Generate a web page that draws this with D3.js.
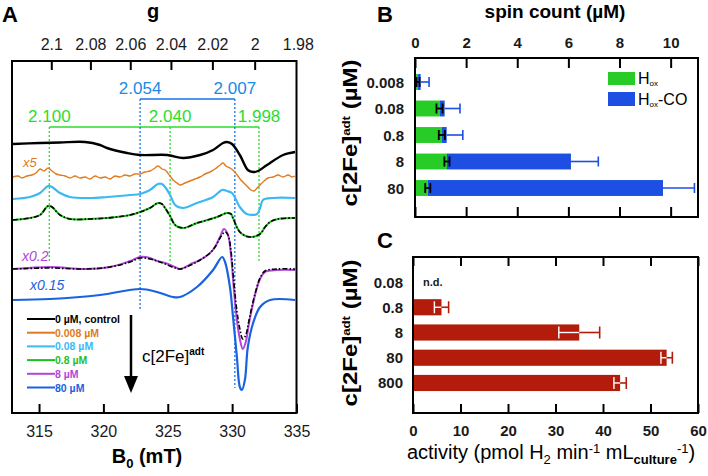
<!DOCTYPE html>
<html>
<head>
<meta charset="utf-8">
<script src="https://cdn.jsdelivr.net/npm/d3@7"></script>
<style>
  body { margin: 0; background: #fff; }
  svg { font-family: "Liberation Sans", Arial, sans-serif; }
</style>
</head>
<body>
<svg id="fig" width="708" height="476"></svg>
<script>
// ---- panel A data: EPR spectra, [field (mT), signal (arb. u.)] ----
var gB = 663.5; // g * B(mT) at the microwave frequency used
var gTicks = [2.1, 2.08, 2.06, 2.04, 2.02, 2, 1.98];
var gTickLabels = ["2.1", "2.08", "2.06", "2.04", "2.02", "2", "1.98"];
var fieldTicks = [315, 320, 325, 330, 335];

var seriesNames = ["0 µM, control", "0.008 µM", "0.08 µM", "0.8 µM", "8 µM", "80 µM"];
var seriesOffsets = [269, 236, 215, 194, 144, 113];

var specControl = [[312.98,0],[315.08,1],[316.63,1.5],[318.57,2],[319.74,-1],[320.28,-4],[321.84,-9],[322.85,-11],[324.95,-11],[326.19,-14],[327.51,-11],[328.52,-6],[329.29,1],[329.6,2],[329.99,0],[330.6,-11],[331.22,-26],[331.63,-28],[332.01,-27],[332.71,-21],[333.96,-11],[334.89,-8]];
var specOrange = [[312.98,0],[313.37,1],[313.68,-1],[314.07,1],[314.45,2],[314.76,4],[315.08,8],[315.39,6],[315.7,9],[316.01,6],[316.32,3],[316.63,2],[317.02,1],[317.41,-1],[317.8,1],[318.18,-1],[318.57,0],[318.96,-2],[319.35,1],[319.74,-1],[320.13,0],[320.51,-2],[320.9,1],[321.29,0],[321.68,2],[322.07,1],[322.46,3],[322.85,3],[323.23,5],[323.62,6],[324.01,9],[324.24,11],[324.55,8],[324.79,7],[325.18,1],[325.41,-3],[325.72,-6],[325.95,-8],[326.34,-6],[326.73,-4],[327.12,-2],[327.51,0],[327.9,3],[328.28,5],[328.67,8],[329.06,12],[329.29,14],[329.52,11],[329.83,9],[330.14,6],[330.45,1],[330.68,-3],[330.99,-7],[331.22,-10],[331.45,-13],[331.7,-14],[331.94,-11],[332.17,-8],[332.48,-4],[332.79,-1],[333.18,0],[333.57,2],[333.96,0],[334.34,2],[334.66,0],[334.89,1]];
var specLightBlue = [[312.98,-1],[314.3,1],[315.08,5],[315.7,12],[316.01,11],[316.63,5],[317.41,1],[318.96,0],[320.28,1],[322.07,3],[322.85,4],[323.62,8],[324.24,14],[324.55,14],[324.79,11],[325.18,3],[325.57,-7],[326.19,-10],[327.27,-5],[328.52,1],[329.22,8],[329.6,7],[329.99,5],[330.6,-9],[331.14,-16],[331.94,-16],[332.17,-10],[332.4,-2],[333.18,0],[334.89,0]];
var specGreen = [[312.98,-1],[314.3,1],[315.08,4],[315.7,13],[316.01,12],[316.63,4],[317.41,0],[318.96,0],[320.28,1],[322.07,4],[322.85,7],[323.62,11],[324.24,16],[324.55,15],[324.79,11],[325.18,3],[325.57,-6],[326.19,-9],[327.27,-4],[328.83,2],[329.6,6],[329.91,5],[330.07,1],[330.6,-13],[331.37,-18],[332.17,-15],[332.56,-8],[332.95,-3],[333.57,0],[334.89,1]];
var specPurple = [[312.98,0],[315.85,2],[318.57,0],[320.51,2],[322.07,8],[322.85,12],[323.62,11],[324.17,8],[324.79,6],[325.57,2],[325.95,0],[326.96,6],[327.51,9],[328.28,16],[328.67,22],[329.06,32],[329.37,40],[329.68,34],[329.91,14],[330.14,-21],[330.37,-51],[330.6,-70],[330.83,-80],[331.06,-73],[331.3,-55],[331.53,-40],[331.86,-22],[332.17,-10],[332.56,-3],[333.49,-1],[334.89,-1]];
var specBlue = [[312.98,0],[315.85,1],[319.74,5],[322.85,11],[324.17,8],[325.41,3],[325.95,3],[327.27,13],[328.52,30],[329.22,43],[329.45,38],[329.83,13],[330.07,-17],[330.37,-57],[330.6,-87],[330.76,-90],[330.99,-80],[331.22,-47],[331.63,-23],[332.17,-7],[332.95,0],[334.89,0]];
// simulations (black dash-dot) for the 0.8 uM and 8 uM spectra
var fit08 = specGreen;
var fit8 = [[312.98,0],[315.85,1],[318.57,0],[320.51,2],[322.07,7],[322.85,11],[323.62,10],[324.17,8],[324.79,5],[325.57,1],[325.95,0],[326.96,5],[327.51,9],[328.28,16],[328.67,22],[329.06,31],[329.45,37],[329.68,34],[329.91,18],[330.14,-14],[330.37,-42],[330.6,-60],[330.83,-70],[331.06,-66],[331.3,-52],[331.53,-38],[331.86,-21],[332.17,-9],[332.56,-2],[333.49,0],[334.89,0]];

var blueMarkG = ["2.054", "2.007"];
var blueMarkB = [322.85, 330.21];
var greenMarkG = ["2.100", "2.040", "1.998"];
var greenMarkB = [315.8, 325.18, 332.09];

// ---- panel B data: spin count (uM) ----
var catsB = ["0.008", "0.08", "0.8", "8", "80"];
var hox = [0.12, 0.96, 1.05, 1.25, 0.5];
var hoxErr = [0.06, 0.12, 0.12, 0.1, 0.1];
var hoxCO = [0.1, 0.2, 0.19, 4.85, 9.2];
var totalErr = [0.33, 0.6, 0.63, 1.07, 1.23];
var spinTicks = [0, 2, 4, 6, 8, 10];

// ---- panel C data: H2 activity ----
var catsC = ["0.08", "0.8", "8", "80", "800"];
var activity = [null, 6.0, 35.0, 53.4, 43.6];
var activityErr = [null, 1.5, 4.3, 1.2, 1.3];
var activityTicks = [0, 10, 20, 30, 40, 50, 60];

var svg = d3.select("#fig");
var FONT = "'Liberation Sans', Arial, sans-serif";

//////////////
// Panel A  //
//////////////
var xA = d3.scaleLinear().domain([312.9, 335]).range([12, 296.5]);
var yA = d3.scaleLinear().domain([0, 352]).range([413, 61]);

var traceColors = ["#000000", "#e07a1c", "#3bb9f3", "#1fbf1f", "#b046d8", "#1a62e0"];
var traceWidths = [2.4, 1.4, 2.2, 2.0, 2.0, 2.2];
var spectra = [specControl, specOrange, specLightBlue, specGreen, specPurple, specBlue];

function specLine(offset) {
  return d3.line()
    .curve(d3.curveCatmullRom.alpha(0.5))
    .x(function(d) { return xA(d[0]); })
    .y(function(d) { return yA(offset + d[1]); });
}

// marker lines
var gM = svg.append("g");
greenMarkB.forEach(function(b) {
  gM.append("line").attr("x1", xA(b)).attr("x2", xA(b)).attr("y1", 127).attr("y2", 262)
    .attr("stroke", "#2ddc2d").attr("stroke-width", 1.3).attr("stroke-dasharray", "2,2");
});
gM.append("line").attr("x1", xA(greenMarkB[0])).attr("x2", xA(greenMarkB[2])).attr("y1", 127).attr("y2", 127)
  .attr("stroke", "#2ddc2d").attr("stroke-width", 1.5);
[310, 388].forEach(function(yEnd, i) {
  gM.append("line").attr("x1", xA(blueMarkB[i])).attr("x2", xA(blueMarkB[i])).attr("y1", 99).attr("y2", yEnd)
    .attr("stroke", "#1a72e6").attr("stroke-width", 1.3).attr("stroke-dasharray", "2,2");
});
gM.append("line").attr("x1", xA(blueMarkB[0])).attr("x2", xA(blueMarkB[1])).attr("y1", 99).attr("y2", 99)
  .attr("stroke", "#1a72e6").attr("stroke-width", 1.5);

gM.selectAll("text.gm").data(greenMarkG).enter().append("text")
  .attr("x", function(d, i) { return xA(greenMarkB[i]); }).attr("y", 122)
  .attr("text-anchor", "middle").attr("font-size", 17).attr("fill", "#2ddc2d").text(function(d) { return d; });
gM.selectAll("text.bm").data(blueMarkG).enter().append("text")
  .attr("x", function(d, i) { return xA(blueMarkB[i]); }).attr("y", 94)
  .attr("text-anchor", "middle").attr("font-size", 17).attr("fill", "#1a8ae6").text(function(d) { return d; });

// spectra
spectra.forEach(function(s, i) {
  svg.append("path").datum(s)
    .attr("fill", "none").attr("stroke", traceColors[i]).attr("stroke-width", traceWidths[i])
    .attr("stroke-linejoin", "round").attr("d", specLine(seriesOffsets[i]));
  if (i === 3) {
    svg.append("path").datum(fit08).attr("fill", "none").attr("stroke", "#000").attr("stroke-width", 1.6)
      .attr("stroke-dasharray", "5,2,1.5,2").attr("d", specLine(seriesOffsets[3]));
  }
  if (i === 4) {
    svg.append("path").datum(fit8).attr("fill", "none").attr("stroke", "#000").attr("stroke-width", 1.6)
      .attr("stroke-dasharray", "5,2,1.5,2").attr("d", specLine(seriesOffsets[4]));
  }
});

// scale factors
svg.append("text").attr("x", 23).attr("y", 167).attr("font-size", 13).attr("font-style", "italic").attr("fill", traceColors[1]).text("x5");
svg.append("text").attr("x", 22).attr("y", 261).attr("font-size", 14).attr("font-style", "italic").attr("fill", traceColors[4]).text("x0.2");
svg.append("text").attr("x", 30).attr("y", 290).attr("font-size", 14).attr("font-style", "italic").attr("fill", traceColors[5]).text("x0.15");

// legend
var legA = svg.append("g");
seriesNames.forEach(function(n, i) {
  var ly = 319 + i * 13.7;
  legA.append("line").attr("x1", 27).attr("x2", 55).attr("y1", ly).attr("y2", ly)
    .attr("stroke", traceColors[i]).attr("stroke-width", 2);
  legA.append("text").attr("x", 55).attr("y", ly + 4).attr("font-size", 10.5).attr("font-weight", "bold")
    .attr("fill", traceColors[i]).text(n);
});

// arrow
svg.append("line").attr("x1", 131).attr("x2", 131).attr("y1", 315).attr("y2", 378).attr("stroke", "#000").attr("stroke-width", 2.5);
svg.append("path").attr("d", "M124,376L138,376L131,393Z").attr("fill", "#000");
var arrowLbl = svg.append("text").attr("x", 142).attr("y", 362).attr("font-size", 17);
arrowLbl.append("tspan").text("c[2Fe]");
arrowLbl.append("tspan").attr("dy", -7).attr("font-size", 10).attr("font-weight", "bold").text("adt");

// axes
var axBA = svg.append("g").attr("transform", "translate(0,413)")
  .call(d3.axisBottom(xA).tickValues(fieldTicks).tickSize(-9).tickFormat(d3.format("d")));
axBA.attr("font-size", 16).attr("font-family", FONT);
axBA.select(".domain").remove();
axBA.selectAll("line").attr("stroke", "#000").attr("stroke-width", 2);
axBA.selectAll("text").attr("dy", null).attr("y", 24).attr("fill", "#1a1a1a");

var axTA = svg.append("g").attr("transform", "translate(0,61)")
  .call(d3.axisTop(xA).tickValues(gTicks.map(function(g) { return gB / g; })).tickSize(-9)
    .tickFormat(function(d, i) { return gTickLabels[i]; }));
axTA.attr("font-size", 16).attr("font-family", FONT);
axTA.select(".domain").remove();
axTA.selectAll(".tick line").attr("stroke", "#000").attr("stroke-width", 2)
  .filter(function(d) { return d > 335; }).remove();
axTA.selectAll("text").attr("y", -11).attr("fill", "#1a1a1a");

svg.append("rect").attr("x", 12).attr("y", 61).attr("width", 284.5).attr("height", 352)
  .attr("fill", "none").attr("stroke", "#000").attr("stroke-width", 2);

var bLbl = svg.append("text").attr("x", 147).attr("y", 463).attr("text-anchor", "middle")
  .attr("font-size", 20).attr("font-weight", "bold");
bLbl.append("tspan").text("B");
bLbl.append("tspan").attr("dy", 5).attr("font-size", 13).text("0");
bLbl.append("tspan").attr("dy", -5).text(" (mT)");
svg.append("text").attr("x", 153).attr("y", 18).attr("text-anchor", "middle").attr("font-size", 20).attr("font-weight", "bold").text("g");
svg.append("text").attr("x", 2).attr("y", 22).attr("font-size", 22).attr("font-weight", "bold").text("A");

//////////////
// Panel B  //
//////////////
var GREEN = "#27cc27", BLUE = "#1c4fe2", RED = "#b31c0b";
var xB = d3.scaleLinear().domain([0, 11.07]).range([415, 698]);
var yB = d3.scaleBand().domain(catsB).range([68.75, 201.25]).paddingInner(0.4).paddingOuter(0.2);
var bh = yB.bandwidth();

svg.append("g").selectAll("rect").data(catsB).enter().append("rect")
  .attr("x", xB(0)).attr("y", function(d) { return yB(d); })
  .attr("width", function(d, i) { return xB(hox[i]) - xB(0); }).attr("height", bh).attr("fill", GREEN);
svg.append("g").selectAll("rect").data(catsB).enter().append("rect")
  .attr("x", function(d, i) { return xB(hox[i]); }).attr("y", function(d) { return yB(d); })
  .attr("width", function(d, i) { return xB(hox[i] + hoxCO[i]) - xB(hox[i]); }).attr("height", bh).attr("fill", BLUE);

catsB.forEach(function(c, i) {
  var cy = yB(c) + bh / 2, tot = hox[i] + hoxCO[i];
  var g = svg.append("g");
  g.append("line").attr("x1", xB(tot)).attr("x2", xB(tot + totalErr[i])).attr("y1", cy).attr("y2", cy)
    .attr("stroke", BLUE).attr("stroke-width", 1.6);
  g.append("line").attr("x1", xB(tot + totalErr[i])).attr("x2", xB(tot + totalErr[i])).attr("y1", cy - 5).attr("y2", cy + 5)
    .attr("stroke", BLUE).attr("stroke-width", 1.6);
  var lo = xB(hox[i] - hoxErr[i]), hi = xB(hox[i] + hoxErr[i]);
  g.append("line").attr("x1", lo).attr("x2", hi).attr("y1", cy).attr("y2", cy).attr("stroke", "#000").attr("stroke-width", 1.8);
  [lo, hi].forEach(function(xx) {
    g.append("line").attr("x1", xx).attr("x2", xx).attr("y1", cy - 5).attr("y2", cy + 5).attr("stroke", "#000").attr("stroke-width", 1.8);
  });
});

var axTB = svg.append("g").attr("transform", "translate(0,58)")
  .call(d3.axisTop(xB).tickValues(spinTicks).tickSize(-10));
axTB.attr("font-size", 15).attr("font-family", FONT).attr("font-weight", "bold");
axTB.select(".domain").remove();
axTB.selectAll("line").attr("stroke", "#000").attr("stroke-width", 2);
axTB.selectAll("text").attr("y", -10).attr("fill", "#1a1a1a");
var axBB = svg.append("g").attr("transform", "translate(0,217)")
  .call(d3.axisBottom(xB).tickValues(spinTicks).tickSize(-10).tickFormat(""));
axBB.select(".domain").remove();
axBB.selectAll("line").attr("stroke", "#000").attr("stroke-width", 2);

svg.append("g").selectAll("text").data(catsB).enter().append("text")
  .attr("x", 404).attr("y", function(d) { return yB(d) + bh / 2 + 5.5; })
  .attr("text-anchor", "end").attr("font-size", 15).attr("font-weight", "bold").attr("fill", "#1a1a1a")
  .text(function(d) { return d; });

svg.append("rect").attr("x", 415).attr("y", 58).attr("width", 283).attr("height", 159)
  .attr("fill", "none").attr("stroke", "#000").attr("stroke-width", 2);

// legend B
svg.append("rect").attr("x", 608).attr("y", 72).attr("width", 27).attr("height", 13).attr("fill", GREEN);
svg.append("rect").attr("x", 608).attr("y", 92).attr("width", 27).attr("height", 14).attr("fill", BLUE);
var l1 = svg.append("text").attr("x", 638).attr("y", 84).attr("font-size", 16);
l1.append("tspan").text("H");
l1.append("tspan").attr("dy", 2).attr("font-size", 8).text("ox");
var l2 = svg.append("text").attr("x", 638).attr("y", 105).attr("font-size", 16);
l2.append("tspan").text("H");
l2.append("tspan").attr("dy", 2).attr("font-size", 8).text("ox");
l2.append("tspan").attr("dy", -2).text("-CO");

svg.append("text").attr("x", 555).attr("y", 18).attr("text-anchor", "middle")
  .attr("font-size", 19).attr("font-weight", "bold").text("spin count (µM)");
svg.append("text").attr("x", 377).attr("y", 22).attr("font-size", 22).attr("font-weight", "bold").text("B");

// rotated concentration label, stretched along its length like the original
function concLabel(cx, cy) {
  var t = svg.append("text").attr("transform", "translate(" + cx + "," + cy + ") rotate(-90) scale(1.2,1)")
    .attr("text-anchor", "middle").attr("font-size", 20).attr("font-weight", "bold");
  t.append("tspan").text("c[2Fe]");
  t.append("tspan").attr("dy", -7).attr("font-size", 11).text("adt");
  t.append("tspan").attr("dy", 7).text(" (µM)");
}
concLabel(357, 133);

//////////////
// Panel C  //
//////////////
var xC = d3.scaleLinear().domain([0, 60]).range([413, 698]);
var yC = d3.scaleBand().domain(catsC).range([269.4, 395.6]).paddingInner(0.36).paddingOuter(0.18);
var ch = yC.bandwidth();

catsC.forEach(function(c, i) {
  var cy = yC(c) + ch / 2;
  if (activity[i] === null) {
    svg.append("text").attr("x", 423).attr("y", cy + 3.5).attr("font-size", 11).attr("font-weight", "bold")
      .attr("fill", "#1a1a1a").text("n.d.");
    return;
  }
  svg.append("rect").attr("x", xC(0)).attr("y", yC(c)).attr("width", xC(activity[i]) - xC(0)).attr("height", ch).attr("fill", RED);
  var lo = xC(activity[i] - activityErr[i]), mid = xC(activity[i]), hi = xC(activity[i] + activityErr[i]);
  svg.append("line").attr("x1", lo).attr("x2", mid).attr("y1", cy).attr("y2", cy).attr("stroke", "#fff").attr("stroke-width", 1.4);
  svg.append("line").attr("x1", lo).attr("x2", lo).attr("y1", cy - 6).attr("y2", cy + 6).attr("stroke", "#fff").attr("stroke-width", 1.4);
  svg.append("line").attr("x1", mid).attr("x2", hi).attr("y1", cy).attr("y2", cy).attr("stroke", RED).attr("stroke-width", 1.6);
  svg.append("line").attr("x1", hi).attr("x2", hi).attr("y1", cy - 6).attr("y2", cy + 6).attr("stroke", RED).attr("stroke-width", 1.6);
});

var axBC = svg.append("g").attr("transform", "translate(0,413)")
  .call(d3.axisBottom(xC).tickValues(activityTicks).tickSize(-9));
axBC.attr("font-size", 15).attr("font-family", FONT).attr("font-weight", "bold");
axBC.select(".domain").remove();
axBC.selectAll("line").attr("stroke", "#000").attr("stroke-width", 2);
axBC.selectAll("text").attr("dy", null).attr("y", 23).attr("fill", "#1a1a1a");
var axTC = svg.append("g").attr("transform", "translate(0,257)")
  .call(d3.axisTop(xC).tickValues(activityTicks).tickSize(-9).tickFormat(""));
axTC.select(".domain").remove();
axTC.selectAll("line").attr("stroke", "#000").attr("stroke-width", 2);

svg.append("g").selectAll("text").data(catsC).enter().append("text")
  .attr("x", 403).attr("y", function(d) { return yC(d) + ch / 2 + 5.5; })
  .attr("text-anchor", "end").attr("font-size", 15).attr("font-weight", "bold").attr("fill", "#1a1a1a")
  .text(function(d) { return d; });

svg.append("rect").attr("x", 413).attr("y", 257).attr("width", 285).attr("height", 156)
  .attr("fill", "none").attr("stroke", "#000").attr("stroke-width", 2);

var actLbl = svg.append("text").attr("x", 551).attr("y", 459).attr("text-anchor", "middle").attr("font-size", 20);
actLbl.append("tspan").text("activity (pmol H");
actLbl.append("tspan").attr("dy", 5).attr("font-size", 13).text("2");
actLbl.append("tspan").attr("dy", -5).text(" min");
actLbl.append("tspan").attr("dy", -6).attr("font-size", 13).text("-1");
actLbl.append("tspan").attr("dy", 6).text(" mL");
actLbl.append("tspan").attr("dy", 5).attr("font-size", 13).attr("font-weight", "bold").text("culture");
actLbl.append("tspan").attr("dy", -11).attr("font-size", 13).text("-1");
actLbl.append("tspan").attr("dy", 6).text(")");

svg.append("text").attr("x", 377).attr("y", 248).attr("font-size", 22).attr("font-weight", "bold").text("C");
concLabel(357, 333);
</script>
</body>
</html>
